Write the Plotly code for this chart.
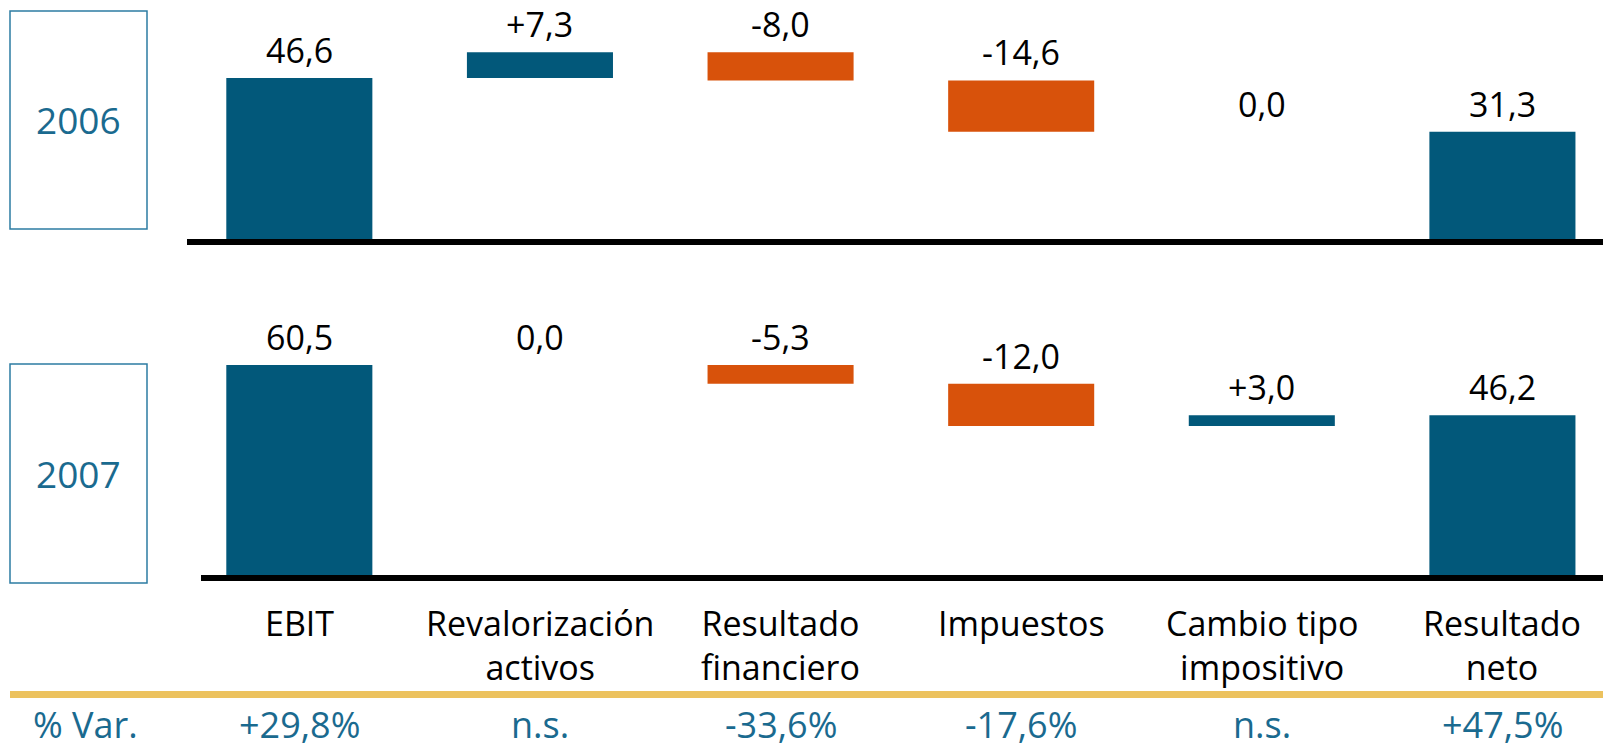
import plotly.graph_objects as go

# ---------------- data ----------------
categories = ["EBIT", "Revalorización activos", "Resultado financiero",
              "Impuestos", "Cambio tipo impositivo", "Resultado neto"]
category_labels = ["EBIT", "Revalorización<br>activos", "Resultado<br>financiero",
                   "Impuestos", "Cambio tipo<br>impositivo", "Resultado<br>neto"]
measures = ["absolute", "relative", "relative", "relative", "relative", "total"]
values_2006 = [46.6, 7.3, -8.0, -14.6, 0.0, 31.3]
values_2007 = [60.5, 0.0, -5.3, -12.0, 3.0, 46.2]
years = ["2006", "2007"]
pct_var = ["+29,8%", "n.s.", "-33,6%", "-17,6%", "n.s.", "+47,5%"]
pct_title = "% Var."

# ---------------- style ----------------
TEAL = "#02587a"
ORANGE = "#d8520b"
TEXT_TEAL = "#1a6a8f"
GOLD = "#ecc25e"
FONT = "Open Sans"
W, H = 1603, 748


def fmt(v, signed):
    if v == 0:
        return "0,0"
    s = f"{v:+.1f}" if signed else f"{v:.1f}"
    return s.replace(".", ",")


def label_tops(vals, meas):
    tops, run = [], 0.0
    for v, m in zip(vals, meas):
        if m == "absolute":
            run = v
            tops.append(v)
        elif m == "total":
            tops.append(run)
        else:
            start = run
            run += v
            tops.append(max(start, run))
    return tops


fig = go.Figure()
panels = [(values_2006, "x", "y"), (values_2007, "x2", "y2")]
for vals, xa, ya in panels:
    fig.add_trace(go.Waterfall(
        x=categories, y=vals, measure=measures,
        xaxis=xa, yaxis=ya,
        width=0.607,
        increasing=dict(marker=dict(color=TEAL)),
        decreasing=dict(marker=dict(color=ORANGE)),
        totals=dict(marker=dict(color=TEAL)),
        connector=dict(visible=False),
        textposition="none", hoverinfo="skip", showlegend=False,
    ))

annotations = []
for (vals, xa, ya) in panels:
    tops = label_tops(vals, measures)
    for c, v, m, t in zip(categories, vals, measures, tops):
        annotations.append(dict(
            x=c, y=t, xref=xa, yref=ya, text=fmt(v, m == "relative"),
            showarrow=False, yanchor="bottom", yshift=3,
            font=dict(family=FONT, size=34, color="#000000")))

# year boxes
box_px = [(11, 229), (364, 583)]
shapes = []
for yr, (top, bot) in zip(years, box_px):
    shapes.append(dict(type="rect", xref="paper", yref="paper",
                       x0=10 / W, x1=147 / W, y0=1 - bot / H, y1=1 - top / H,
                       line=dict(color="#2c7ca3", width=1.5)))
    annotations.append(dict(x=78.5 / W, y=1 - (top + bot) / 2 / H, xref="paper", yref="paper",
                            text=yr, showarrow=False, xanchor="center", yanchor="middle",
                            font=dict(family=FONT, size=37, color=TEXT_TEAL)))

# baselines
shapes.append(dict(type="line", xref="paper", yref="y", x0=187 / W, x1=1, y0=0, y1=0,
                   line=dict(color="#000000", width=6)))
shapes.append(dict(type="line", xref="paper", yref="y2", x0=201 / W, x1=1, y0=0, y1=0,
                   line=dict(color="#000000", width=6)))
# gold separator
shapes.append(dict(type="line", xref="paper", yref="paper", x0=10 / W, x1=1,
                   y0=1 - 694.5 / H, y1=1 - 694.5 / H, line=dict(color=GOLD, width=7)))

# category labels
for c, lab in zip(categories, category_labels):
    annotations.append(dict(x=c, xref="x2", y=1 - 598 / H, yref="paper", text=lab,
                            showarrow=False, xanchor="center", yanchor="top",
                            font=dict(family=FONT, size=34, color="#000000")))
# % var row
annotations.append(dict(x=85 / W, xref="paper", y=1 - 724 / H, yref="paper", text=pct_title,
                        showarrow=False, xanchor="center", yanchor="middle",
                        font=dict(family=FONT, size=36, color=TEXT_TEAL)))
for c, p in zip(categories, pct_var):
    annotations.append(dict(x=c, xref="x2", y=1 - 724 / H, yref="paper", text=p,
                            showarrow=False, xanchor="center", yanchor="middle",
                            font=dict(family=FONT, size=36, color=TEXT_TEAL)))

xr = [-1.244, 5.418]
top_scale = 3.52
bot_scale = 3.521
fig.update_layout(
    width=W, height=H, margin=dict(l=0, r=0, t=0, b=0, pad=0),
    paper_bgcolor="white", plot_bgcolor="white",
    font=dict(family=FONT),
    xaxis=dict(domain=[0, 1], range=xr, type="category", categoryarray=categories,
               visible=False, anchor="y"),
    xaxis2=dict(domain=[0, 1], range=xr, type="category", categoryarray=categories,
                visible=False, anchor="y2"),
    yaxis=dict(domain=[1 - 250 / H, 1], range=[-8 / top_scale, 242 / top_scale],
               visible=False, anchor="x"),
    yaxis2=dict(domain=[1 - 586 / H, 1 - 300 / H], range=[-8 / bot_scale, 278 / bot_scale],
                visible=False, anchor="x2"),
    shapes=shapes, annotations=annotations,
)

fig.write_html("out.html", config={"displayModeBar": False},
               post_script="document.body.style.margin='0';")
